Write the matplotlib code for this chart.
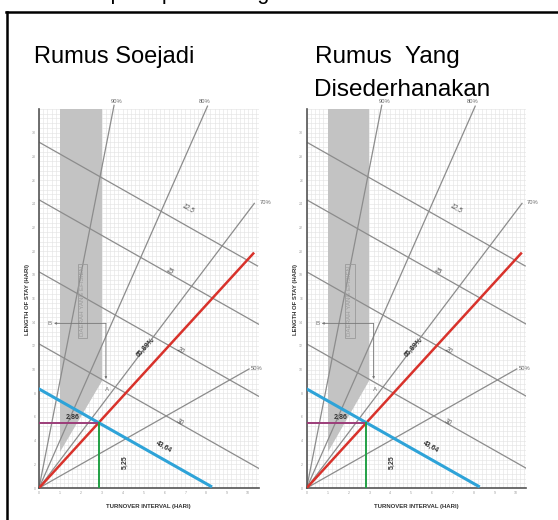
import matplotlib

matplotlib.use("Agg")

import matplotlib.pyplot as plt
import numpy as np
from matplotlib.lines import Line2D

plt.rcParams["font.family"] = ["Liberation Sans", "DejaVu Sans"]

# BOR (%) lines of the Barber-Johnson diagram and where each one stops on the TOI axis
bor_values = [90, 80, 70, 50]
bor_end_toi = [3.59, 8.06, 10.3, 10.05]
bor_labels = ["90%", "80%", "70%", "50%"]
bor_label_pos = [(3.72, 32.6), (7.94, 32.6), (10.55, 24.1), (10.15, 10.1)]

# throughput (BTO) lines: both intercepts at 365 / BTO
bto_values = [12.5, 15, 20, 30]
bto_labels = ["12,5", "15", "20", "30"]
bto_label_pos = [(7.15, 23.6), (6.27, 18.3), (6.75, 11.6), (6.75, 5.5)]

# computed result of the hospital
bor_result = 65.89
bto_result = 43.64
result_texts = ["65,89%", "43,64", "2,86", "5,25"]

# efficient area: TOI 1..3, above BOR 75%
eff_toi = [1, 3]
eff_bor = 75

x_ticks = np.arange(0, 11, 1)
y_ticks = np.arange(0, 31, 2)

titles = ["Rumus Soejadi", "Rumus  Yang", "Disederhanakan"]

W, H = 558, 520
XMAX, YMAX = 10.5, 32
AX_W, AX_H = 219.5, 379  # axes size in pixels
fig = plt.figure(figsize=(W / 100, H / 100), dpi=100)

GRAY = "#8c8c8c"


def slope_angle(slope):
    # angle on screen of a line with the given data slope
    return np.degrees(np.arctan(slope * (AX_H / YMAX) / (AX_W / XMAX)))


def draw_panel(ax):
    ax.set_xlim(0, XMAX)
    ax.set_ylim(0, YMAX)
    ax.set_xticks(x_ticks)
    ax.set_yticks(y_ticks)
    ax.set_xticks(np.arange(0, 10.51, 0.2), minor=True)
    ax.set_yticks(np.arange(0, 32.01, 0.4), minor=True)
    ax.tick_params(which="both", length=0)
    ax.tick_params(labelsize=2.5, labelcolor="#9a9a9a", pad=2.5)
    ax.grid(True, which="both", color="#e4e4e4", linewidth=0.45)
    ax.set_axisbelow(True)
    for s in ["top", "right"]:
        ax.spines[s].set_visible(False)
    for s in ["left", "bottom"]:
        ax.spines[s].set_color("#555555")
        ax.spines[s].set_linewidth(1.2)

    # efficient area
    lo = eff_bor / (100 - eff_bor)
    ax.fill([eff_toi[0], eff_toi[0], eff_toi[1], eff_toi[1]],
            [lo * eff_toi[0], YMAX, YMAX, lo * eff_toi[1]],
            color="#c3c3c3", linewidth=0, zorder=1)
    ax.text(2.07, 15.8, "DAERAH YANG EFISIEN", rotation=90, ha="center", va="center",
            fontsize=4.4, color="#9a9a9a", zorder=3,
            bbox=dict(boxstyle="square,pad=0.35", facecolor="none", edgecolor="#9a9a9a", linewidth=0.6))

    # BOR lines
    for bor, xe, lab, pos in zip(bor_values, bor_end_toi, bor_labels, bor_label_pos):
        k = bor / (100 - bor)
        ax.plot([0, xe], [0, k * xe], color=GRAY, linewidth=0.9, clip_on=False, zorder=2)
        ha = "center" if pos[1] > 30 else "left"
        ax.text(pos[0], pos[1], lab, fontsize=4.2, color="#666666", ha=ha, va="center")

    # throughput lines
    for bto, lab, pos in zip(bto_values, bto_labels, bto_label_pos):
        c = 365 / bto
        xe = min(c, 10.45 if bto == 12.5 else XMAX)
        ax.plot([0, xe], [c, c - xe], color=GRAY, linewidth=0.9, zorder=2)
        ax.text(pos[0], pos[1], lab, fontsize=4.8, color="#555555", ha="center", va="center",
                rotation=slope_angle(-1), style="italic")

    # result lines
    k = bor_result / (100 - bor_result)
    c = 365 / bto_result
    toi = c / (1 + k)
    los = k * toi
    ax.plot([0, 10.25], [0, k * 10.25], color="#d8322b", linewidth=1.8, zorder=4)
    ax.plot([0, c - 0.15], [c, 0.15], color="#2ea3d8", linewidth=2.2, zorder=4)
    ax.plot([0, toi], [los, los], color="#9c3d79", linewidth=1.4, zorder=5)
    ax.plot([toi, toi], [0, los], color="#22a045", linewidth=1.4, zorder=5)

    ax.text(5.1, 11.9, result_texts[0], fontsize=5, fontweight="bold", color="#333333",
            ha="center", va="center", rotation=slope_angle(k))
    ax.text(5.95, 3.5, result_texts[1], fontsize=5, fontweight="bold", color="#333333",
            ha="center", va="center", rotation=slope_angle(-1))
    ax.text(1.6, 5.95, result_texts[2], fontsize=5, fontweight="bold", color="#333333",
            ha="center", va="center")
    ax.text(4.1, 2.2, result_texts[3], fontsize=5, fontweight="bold", color="#333333",
            ha="center", va="center", rotation=90)

    # A / B markers
    ax.annotate("", xy=(0.72, 13.9), xytext=(3.2, 13.9),
                arrowprops=dict(arrowstyle="-|>", color="#777777", lw=0.6, mutation_scale=3,
                                shrinkA=0, shrinkB=0))
    ax.annotate("", xy=(3.2, 9.2), xytext=(3.2, 13.9),
                arrowprops=dict(arrowstyle="-|>", color="#777777", lw=0.6, mutation_scale=3,
                                shrinkA=0, shrinkB=0))
    ax.text(0.5, 13.9, "B", fontsize=4.5, color="#777777", ha="center", va="center")
    ax.text(3.27, 8.35, "A", fontsize=4.5, color="#777777", ha="center", va="center")

    ax.set_xlabel("TURNOVER INTERVAL (HARI)", fontsize=4.3, fontweight="bold",
                  color="#333333", labelpad=6)
    ax.set_ylabel("LENGTH OF STAY (HARI)", fontsize=4.3, fontweight="bold",
                  color="#333333", labelpad=3)
    ax.yaxis.set_label_coords(-0.04, 0.497)


for x0 in [39, 306.7]:
    ax = fig.add_axes([x0 / W, 32 / H, AX_W / W, AX_H / H])
    draw_panel(ax)

fig.text(114 / W, 1 - 63 / H, titles[0], fontsize=17, ha="center", va="baseline")
fig.text(315 / W, 1 - 63 / H, titles[1], fontsize=17.5, ha="left", va="baseline")
fig.text(402 / W, 1 - 96 / H, titles[2], fontsize=17.5, ha="center", va="baseline")

# header line cut off at the top of the picture
fig.text(70 / W, 1 + 0.5 / H, "Tampilan perbandingan", fontsize=15.5, ha="left", va="baseline")

# frame
fig.add_artist(Line2D([6 / W, 1], [1 - 12 / H, 1 - 12 / H], color="black", linewidth=1.8))
fig.add_artist(Line2D([7 / W, 7 / W], [0, 1 - 12 / H], color="black", linewidth=1.8))

fig.savefig("out.png", dpi=100)
